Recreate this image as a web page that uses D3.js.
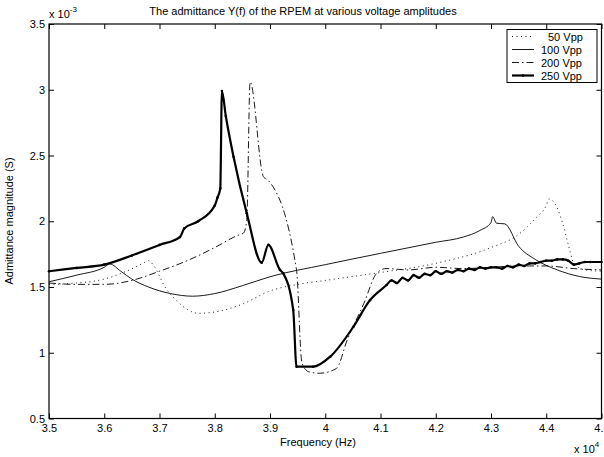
<!DOCTYPE html>
<html>
<head>
<meta charset="utf-8">
<script src="https://cdn.jsdelivr.net/npm/d3@7"></script>
<style>
  body { margin: 0; background: #fff; }
  text { font-family: "Liberation Sans", Arial, Helvetica, sans-serif; fill: #000; }
</style>
</head>
<body>
<svg id="chart" width="604" height="457"></svg>
<script>
// frequency in units of 10^4 Hz, admittance in units of 10^-3 S
const xTicks = [3.5, 3.6, 3.7, 3.8, 3.9, 4.0, 4.1, 4.2, 4.3, 4.4, 4.5];
const xTickLabels = ["3.5", "3.6", "3.7", "3.8", "3.9", "4", "4.1", "4.2", "4.3", "4.4", "4.5"];
const yTicks = [0.5, 1, 1.5, 2, 2.5, 3, 3.5];
const yTickLabels = ["0.5", "1", "1.5", "2", "2.5", "3", "3.5"];

const legendLabels = ["50 Vpp", "100 Vpp", "200 Vpp", "250 Vpp"];

const freq50 = [3.50, 3.55, 3.60, 3.64, 3.67, 3.68, 3.69, 3.71, 3.73, 3.75, 3.77, 3.80, 3.85, 3.90, 3.95, 4.00, 4.05, 4.10, 4.20, 4.30, 4.35, 4.38, 4.40, 4.405, 4.42, 4.43, 4.44, 4.45, 4.47, 4.50];
const adm50  = [1.52, 1.53, 1.56, 1.62, 1.68, 1.70, 1.66, 1.50, 1.40, 1.33, 1.30, 1.31, 1.37, 1.47, 1.52, 1.55, 1.58, 1.61, 1.68, 1.80, 1.90, 2.02, 2.12, 2.17, 2.10, 1.98, 1.82, 1.68, 1.63, 1.62];

const freq100 = [3.50, 3.55, 3.60, 3.61, 3.63, 3.65, 3.68, 3.72, 3.76, 3.80, 3.85, 3.90, 4.00, 4.10, 4.20, 4.25, 4.28, 4.30, 4.303, 4.31, 4.325, 4.35, 4.38, 4.42, 4.46, 4.50];
const adm100  = [1.54, 1.59, 1.65, 1.675, 1.62, 1.56, 1.50, 1.45, 1.43, 1.45, 1.51, 1.578, 1.67, 1.756, 1.84, 1.88, 1.93, 1.99, 2.035, 1.985, 1.98, 1.81, 1.71, 1.63, 1.58, 1.56];

const freq200 = [3.50, 3.55, 3.60, 3.65, 3.70, 3.75, 3.80, 3.84, 3.852, 3.858, 3.864, 3.888, 3.897, 3.948, 3.957, 3.96, 3.965, 3.97, 3.99, 4.02, 4.04, 4.07, 4.093, 4.11, 4.15, 4.20, 4.25, 4.30, 4.35, 4.40, 4.45, 4.50];
const adm200  = [1.53, 1.52, 1.52, 1.55, 1.62, 1.70, 1.80, 1.89, 1.91, 2.01, 3.06, 2.34, 2.31, 1.63, 0.945, 0.90, 0.87, 0.855, 0.844, 0.88, 1.10, 1.376, 1.604, 1.64, 1.63, 1.65, 1.64, 1.65, 1.66, 1.66, 1.64, 1.63];

const freq250 = [3.50, 3.55, 3.60, 3.65, 3.70, 3.737, 3.745, 3.77, 3.80, 3.805, 3.81, 3.813, 3.82, 3.834, 3.858, 3.885, 3.897, 3.918, 3.924, 3.942, 3.948, 3.978, 4.009, 4.051, 4.081, 4.111, 4.12, 4.13, 4.14, 4.15, 4.16, 4.17, 4.18, 4.19, 4.20, 4.21, 4.22, 4.23, 4.24, 4.25, 4.26, 4.27, 4.28, 4.29, 4.30, 4.31, 4.32, 4.33, 4.34, 4.35, 4.36, 4.37, 4.38, 4.39, 4.40, 4.41, 4.42, 4.43, 4.44, 4.45, 4.46, 4.47, 4.48, 4.50];
const adm250  = [1.62, 1.645, 1.67, 1.74, 1.82, 1.88, 1.946, 2.00, 2.12, 2.18, 2.25, 2.99, 2.80, 2.49, 2.06, 1.685, 1.82, 1.63, 1.604, 1.325, 0.894, 0.894, 0.97, 1.198, 1.40, 1.515, 1.55, 1.53, 1.57, 1.55, 1.59, 1.57, 1.60, 1.59, 1.62, 1.60, 1.62, 1.61, 1.63, 1.62, 1.64, 1.63, 1.65, 1.64, 1.65, 1.65, 1.64, 1.66, 1.65, 1.67, 1.66, 1.68, 1.68, 1.69, 1.70, 1.70, 1.71, 1.71, 1.70, 1.67, 1.68, 1.69, 1.69, 1.69];

const plotLeft = 49, plotRight = 601.5, plotTop = 24, plotBottom = 418.5;

const svg = d3.select("#chart");

const x = d3.scaleLinear().domain([3.5, 4.5]).range([plotLeft, plotRight]);
const y = d3.scaleLinear().domain([0.5, 3.5]).range([plotBottom, plotTop]);

// axes with inward ticks on all four sides
svg.append("g")
  .attr("transform", "translate(0," + plotBottom + ")")
  .call(d3.axisBottom(x).tickValues(xTicks).tickSize(-5).tickPadding(6)
    .tickFormat((d, i) => xTickLabels[i]))
  .call(g => g.select(".domain").remove())
  .call(g => g.selectAll("text").style("font-size", "11px"));

svg.append("g")
  .attr("transform", "translate(0," + plotTop + ")")
  .call(d3.axisTop(x).tickValues(xTicks).tickSize(-5).tickFormat(""))
  .call(g => g.select(".domain").remove());

svg.append("g")
  .attr("transform", "translate(" + plotLeft + ",0)")
  .call(d3.axisLeft(y).tickValues(yTicks).tickSize(-5).tickPadding(4)
    .tickFormat((d, i) => yTickLabels[i]))
  .call(g => g.select(".domain").remove())
  .call(g => g.selectAll("text").style("font-size", "11px"));

svg.append("g")
  .attr("transform", "translate(" + plotRight + ",0)")
  .call(d3.axisRight(y).tickValues(yTicks).tickSize(-5).tickFormat(""))
  .call(g => g.select(".domain").remove());

svg.selectAll(".tick line").attr("stroke", "#000");

svg.append("rect")
  .attr("x", plotLeft).attr("y", plotTop)
  .attr("width", plotRight - plotLeft).attr("height", plotBottom - plotTop)
  .attr("fill", "none").attr("stroke", "#000").attr("stroke-width", 1.2);

// curves
const series = [
  { f: freq50, a: adm50, width: 0.9, dash: "1,3.5" },
  { f: freq100, a: adm100, width: 0.9, dash: null },
  { f: freq200, a: adm200, width: 0.9, dash: "7,3,1.5,3" },
  { f: freq250, a: adm250, width: 2.2, dash: null }
];

const line = d3.line().curve(d3.curveMonotoneX).x(d => x(d[0])).y(d => y(d[1]));

series.forEach(s => {
  const pts = s.f.map((v, i) => [v, s.a[i]]);
  svg.append("path")
    .datum(pts)
    .attr("d", line)
    .attr("fill", "none")
    .attr("stroke", "#000")
    .attr("stroke-width", s.width)
    .attr("stroke-linejoin", "round")
    .attr("stroke-dasharray", s.dash);
});

// dot markers on the 250 Vpp curve
svg.append("g").selectAll("circle")
  .data(freq250.map((v, i) => [v, adm250[i]]))
  .join("circle")
  .attr("cx", d => x(d[0]))
  .attr("cy", d => y(d[1]))
  .attr("r", 1.3)
  .attr("fill", "#000");

// title and labels
svg.append("text")
  .attr("x", 303).attr("y", 15)
  .attr("text-anchor", "middle")
  .style("font-size", "11px")
  .text("The admittance Y(f) of the RPEM at various voltage amplitudes");

svg.append("text")
  .attr("x", 318).attr("y", 446)
  .attr("text-anchor", "middle")
  .style("font-size", "11px")
  .text("Frequency (Hz)");

svg.append("text")
  .attr("transform", "translate(13,221) rotate(-90)")
  .attr("text-anchor", "middle")
  .style("font-size", "11px")
  .text("Admittance magnitude (S)");

// exponent labels
const ey = svg.append("text").attr("x", 49).attr("y", 18).style("font-size", "11px");
ey.append("tspan").text("x 10");
ey.append("tspan").attr("dy", -6).style("font-size", "8px").text("-3");

const ex = svg.append("text").attr("x", 574).attr("y", 453).style("font-size", "11px");
ex.append("tspan").text("x 10");
ex.append("tspan").attr("dy", -6).style("font-size", "8px").text("4");

// legend
const lg = svg.append("g");
lg.append("rect")
  .attr("x", 507).attr("y", 29.5).attr("width", 90).attr("height", 53)
  .attr("fill", "#fff").attr("stroke", "#000").attr("stroke-width", 1);

legendLabels.forEach((name, i) => {
  const ry = 36.5 + i * 13;
  const s = series[i];
  lg.append("line")
    .attr("x1", 512).attr("x2", 534).attr("y1", ry).attr("y2", ry)
    .attr("stroke", "#000").attr("stroke-width", s.width)
    .attr("stroke-dasharray", s.dash);
  if (i === 3) {
    lg.append("circle").attr("cx", 523).attr("cy", ry).attr("r", 1.3).attr("fill", "#000");
  }
  lg.append("text")
    .attr("x", name.length === 6 ? 548 : 541).attr("y", ry + 4)
    .style("font-size", "11px")
    .text(name);
});
</script>
</body>
</html>
